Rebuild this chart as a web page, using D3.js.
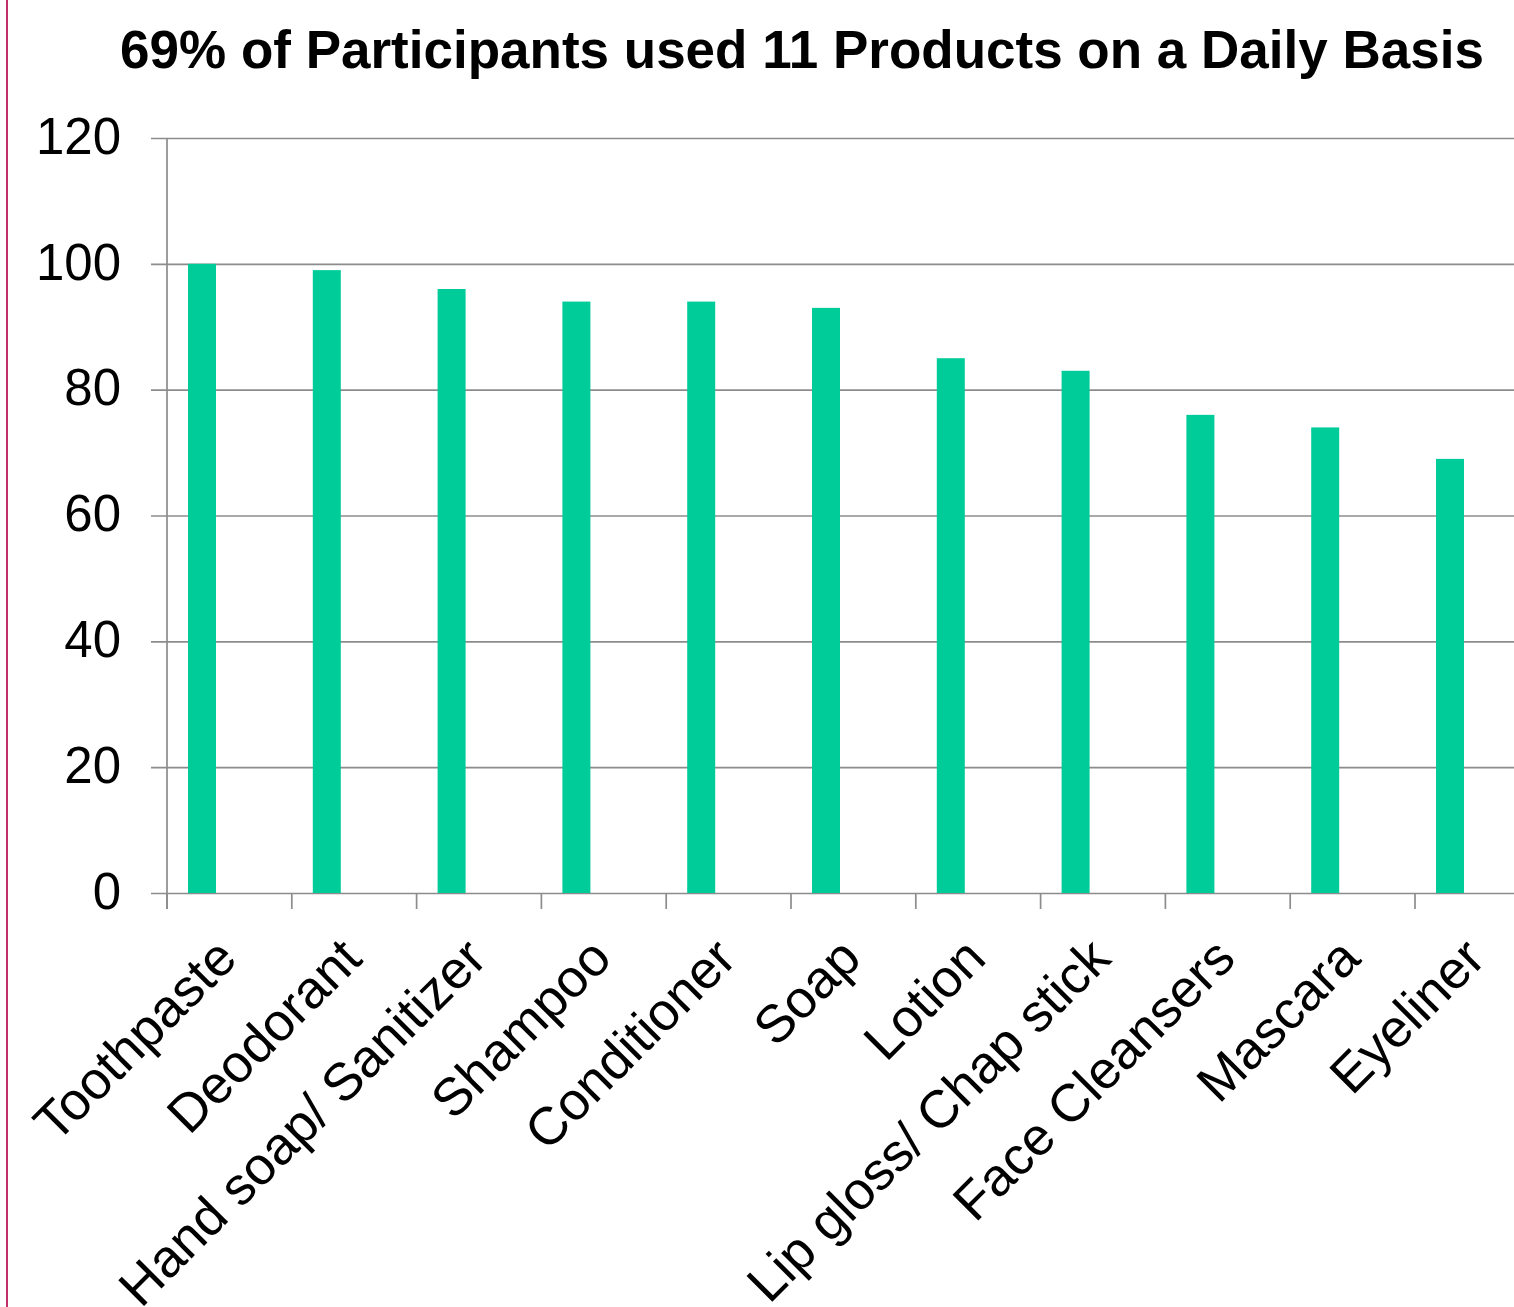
<!DOCTYPE html>
<html>
<head>
<meta charset="utf-8">
<script src="https://cdn.jsdelivr.net/npm/d3@7"></script>
<style>
  body { margin: 0; background: #fff; }
  svg { display: block; font-family: Arial, "Liberation Sans", sans-serif; }
</style>
</head>
<body>
<div id="chart"></div>
<script>
const categories = ['Toothpaste', 'Deodorant', 'Hand soap/ Sanitizer', 'Shampoo', 'Conditioner', 'Soap',
  'Lotion', 'Lip gloss/ Chap stick', 'Face Cleansers', 'Mascara', 'Eyeliner']
const values = [100, 99, 96, 94, 94, 93, 85, 83, 76, 74, 69]
const yTicks = [0, 20, 40, 60, 80, 100, 120]
const title = '69% of Participants used 11 Products on a Daily Basis'

const width = 1514
const height = 1307
const margin = { top: 138, left: 167, bottom: 414 }

const svg = d3
  .select('#chart')
  .append('svg')
  .attr('width', width)
  .attr('height', height)

// crimson slide edge on the left
svg.append('line')
  .attr('x1', 7).attr('x2', 7)
  .attr('y1', 0).attr('y2', height)
  .attr('stroke', '#c0306a')
  .attr('stroke-width', 2)

const step = 124.8
const xPositionScale = d3.scaleBand()
  .domain(categories)
  .range([margin.left, margin.left + step * categories.length])
  .paddingInner(0).paddingOuter(0)

const yPositionScale = d3.scaleLinear()
  .domain([0, 120])
  .range([height - margin.bottom, margin.top])

// title
svg.append('text')
  .attr('x', 802)
  .attr('y', 68)
  .attr('text-anchor', 'middle')
  .attr('font-size', 53)
  .attr('font-weight', 'bold')
  .attr('fill', '#000')
  .text(title)

// gridlines + y labels
const yAxis = d3.axisLeft(yPositionScale)
  .tickValues(yTicks)
  .tickSize(-(width - margin.left + 20))
  .tickPadding(46)

const yG = svg.append('g')
  .attr('class', 'y-axis')
  .attr('transform', 'translate(' + margin.left + ',0)')
  .call(yAxis)

yG.select('.domain').remove()
yG.selectAll('.tick line')
  .attr('x1', -16)
  .attr('stroke', '#8c8c8c')
  .attr('stroke-width', 1.7)
yG.selectAll('.tick text')
  .attr('font-size', 51)
  .attr('font-family', 'Arial, "Liberation Sans", sans-serif')
  .attr('fill', '#000')
  .attr('dy', '0.3em')

// y axis line
svg.append('line')
  .attr('x1', margin.left).attr('x2', margin.left)
  .attr('y1', yPositionScale(120))
  .attr('y2', yPositionScale(0) + 16)
  .attr('stroke', '#8c8c8c')
  .attr('stroke-width', 1.7)

// x tick marks at band boundaries
svg.selectAll('.x-tick')
  .data(categories)
  .enter()
  .append('line')
  .attr('class', 'x-tick')
  .attr('x1', d => xPositionScale(d))
  .attr('x2', d => xPositionScale(d))
  .attr('y1', yPositionScale(0))
  .attr('y2', yPositionScale(0) + 16)
  .attr('stroke', '#8c8c8c')
  .attr('stroke-width', 1.7)

// bars
svg.selectAll('rect.bar')
  .data(values)
  .enter()
  .append('rect')
  .attr('class', 'bar')
  .attr('x', (d, i) => xPositionScale(categories[i]) + 21)
  .attr('y', d => yPositionScale(d))
  .attr('width', 28)
  .attr('height', d => yPositionScale(0) - yPositionScale(d))
  .attr('fill', '#00cc99')

// rotated category labels
svg.selectAll('.x-label')
  .data(categories)
  .enter()
  .append('text')
  .attr('class', 'x-label')
  .attr('text-anchor', 'end')
  .attr('font-size', 53)
  .attr('fill', '#000')
  .attr('transform', d => {
    const cx = xPositionScale(d) + xPositionScale.bandwidth() / 2 + 10
    return 'translate(' + cx + ',' + (yPositionScale(0) + 68) + ') rotate(-45)'
  })
  .text(d => d)
</script>
</body>
</html>
